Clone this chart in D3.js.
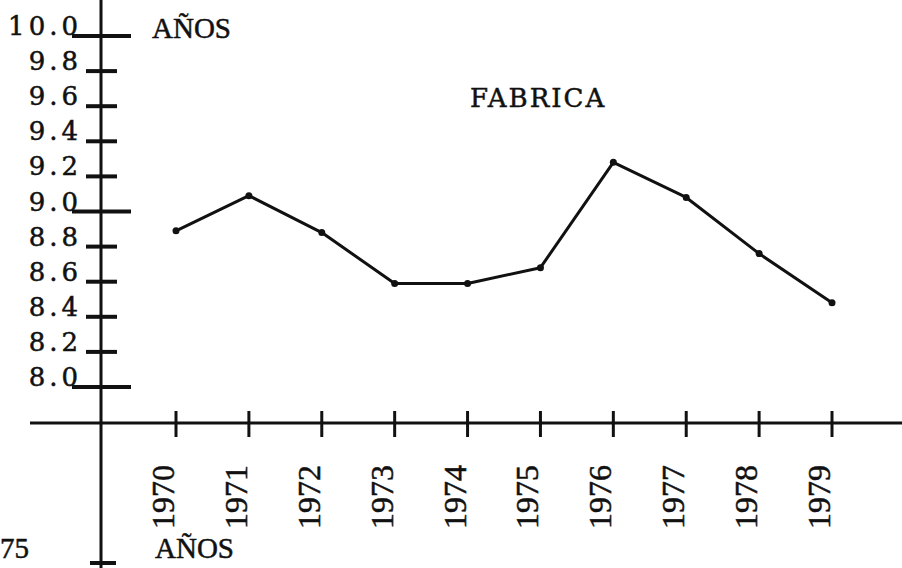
<!DOCTYPE html>
<html>
<head>
<meta charset="utf-8">
<script src="https://cdn.jsdelivr.net/npm/d3@7"></script>
<style>
  body { margin: 0; background: #fff; }
  svg { display: block; }
  text { font-family: "Liberation Serif", "DejaVu Serif", serif; fill: #111; stroke: #111; stroke-width: 0.5px; }
</style>
</head>
<body>
<svg id="chart" width="902" height="568"></svg>
<script>
// data
let years = [1970, 1971, 1972, 1973, 1974, 1975, 1976, 1977, 1978, 1979];
let values = [8.89, 9.09, 8.88, 8.59, 8.59, 8.68, 9.28, 9.08, 8.76, 8.48];
let yTicks = [8.0, 8.2, 8.4, 8.6, 8.8, 9.0, 9.2, 9.4, 9.6, 9.8, 10.0];
let majorTicks = [8.0, 9.0, 10.0];
let yTitle = "AÑOS";
let xTitle = "AÑOS";
let seriesName = "FABRICA";

let svg = d3.select("#chart");
let ink = "#111";

// scales
let xScale = d3.scaleLinear().domain([1970, 1979]).range([176, 832]);
let yScale = d3.scaleLinear().domain([8, 10]).range([387, 36]);
let axisX = 101;   // vertical axis position
let axisY = 423;   // horizontal axis position

// axis lines
svg.append("line")
    .attr("x1", axisX).attr("x2", axisX)
    .attr("y1", 0).attr("y2", 568)
    .attr("stroke", ink).attr("stroke-width", 3);
svg.append("line")
    .attr("x1", 30).attr("x2", 902)
    .attr("y1", axisY).attr("y2", axisY)
    .attr("stroke", ink).attr("stroke-width", 3);

// y ticks, crossing the axis
svg.selectAll(".ytick")
    .data(yTicks)
    .enter().append("line")
    .attr("class", "ytick")
    .attr("x1", d => majorTicks.includes(d) ? 72 : 86)
    .attr("x2", d => majorTicks.includes(d) ? 131 : 117)
    .attr("y1", d => yScale(d))
    .attr("y2", d => yScale(d))
    .attr("stroke", ink).attr("stroke-width", 4);

svg.selectAll(".ylabel")
    .data(yTicks)
    .enter().append("text")
    .attr("class", "ylabel")
    .attr("x", 82)
    .attr("y", d => yScale(d) - 1)
    .attr("text-anchor", "end")
    .style("font-family", "'DejaVu Serif', serif")
    .style("font-size", "26px")
    .style("letter-spacing", "4px")
    .text(d => d.toFixed(1));

// small tick at the bottom of the axis
svg.append("line")
    .attr("x1", 90).attr("x2", 116)
    .attr("y1", 563).attr("y2", 563)
    .attr("stroke", ink).attr("stroke-width", 4);

// x ticks
svg.selectAll(".xtick")
    .data(years)
    .enter().append("line")
    .attr("class", "xtick")
    .attr("x1", d => xScale(d)).attr("x2", d => xScale(d))
    .attr("y1", axisY - 12).attr("y2", axisY + 14)
    .attr("stroke", ink).attr("stroke-width", 3);

svg.selectAll(".xlabel")
    .data(years)
    .enter().append("text")
    .attr("class", "xlabel")
    .attr("transform", d => "translate(" + (xScale(d) - 2) + "," + 529 + ") rotate(-90)")
    .attr("text-anchor", "start")
    .style("font-size", "32px")
    .text(d => d);

// the series
let line = d3.line()
    .x((d, i) => xScale(years[i]))
    .y(d => yScale(d));

svg.append("path")
    .attr("d", line(values))
    .attr("fill", "none")
    .attr("stroke", ink)
    .attr("stroke-width", 3)
    .attr("stroke-linejoin", "round");

svg.selectAll(".dot")
    .data(values)
    .enter().append("circle")
    .attr("class", "dot")
    .attr("cx", (d, i) => xScale(years[i]))
    .attr("cy", d => yScale(d))
    .attr("r", 3.5)
    .attr("fill", ink);

// titles
svg.append("text")
    .attr("x", 152).attr("y", 38)
    .style("font-size", "29px")
    .text(yTitle);

svg.append("text")
    .attr("x", 470).attr("y", 107)
    .style("font-family", "'DejaVu Serif', serif")
    .style("font-size", "26px")
    .style("letter-spacing", "2px")
    .text(seriesName);

svg.append("text")
    .attr("x", 155).attr("y", 558)
    .style("font-size", "29px")
    .text(xTitle);

// leftover label from the neighbouring chart, cut at the page edge
svg.append("text")
    .attr("x", 29).attr("y", 558)
    .attr("text-anchor", "end")
    .style("font-size", "29px")
    .text("75");
</script>
</body>
</html>
